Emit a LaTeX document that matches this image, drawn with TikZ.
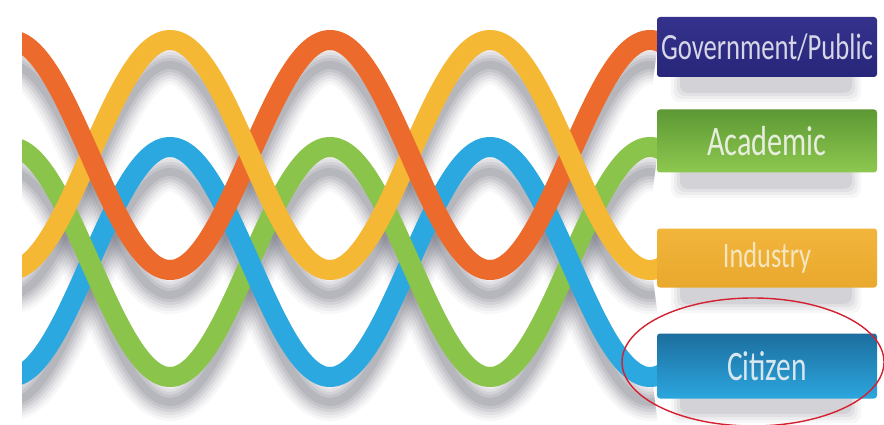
\documentclass[tikz,border=0pt]{standalone}
\usepackage{fontspec}
\setmainfont{Carlito}
\definecolor{cOrange}{HTML}{EC6A2C}
\definecolor{cYellow}{HTML}{F5B835}
\definecolor{cGreen}{HTML}{8AC44B}
\definecolor{cBlue}{HTML}{2AA8DF}
\definecolor{cShadow}{rgb}{0.45,0.45,0.50}
\definecolor{cRing}{HTML}{D42030}
% #1 colour, #2 midline, #3 sign, #4 from, #5 to
\newcommand\wseg[5]{\draw[wave,#1] plot[domain=#4:#5,samples=70] (\x,{#2+#3*115*cos((\x-10)*1.125)});}
% #1 midline, #2 sign
\newcommand\wshadow[2]{%
  \foreach \w/\o in {38/0.05,32/0.07,26/0.09,20/0.12,14/0.15,8/0.17}{%
    \draw[line width=\w pt, cShadow, opacity=\o] plot[domain=10:655,samples=160] (\x,{#1+25+#2*115*cos((\x-10)*1.125)});}}
\newcommand\boxshadow[2]{%
  \foreach \e/\o in {9/0.05,6/0.07,3/0.09,0/0.12}{%
    \fill[cShadow, opacity=\o, rounded corners=8pt] (680-\e,#1+18-\e) rectangle (852+\e,#2+16+\e);}}
\begin{document}
\begin{tikzpicture}[x=1pt,y=-1pt,
  wave/.style={line width=20pt, line cap=butt, line join=round},
  lbl/.style={minimum width=220pt, minimum height=#1, inner sep=0pt, rounded corners=3pt}]
\useasboundingbox[fill=white] (0,0) rectangle (884,425);
\begin{scope}
\clip (22,0) rectangle (884,425);
% shadows of the waves
\wshadow{262}{-1}
\wshadow{262}{1}
\wshadow{155}{-1}
\wshadow{155}{1}
% green / blue pair: ascending parts first, then descending parts
\wseg{cGreen}{262}{-1}{168}{332}
\wseg{cGreen}{262}{-1}{488}{662}
\wseg{cBlue}{262}{1}{5}{172}
\wseg{cBlue}{262}{1}{328}{492}
\wseg{cGreen}{262}{-1}{5}{172}
\wseg{cGreen}{262}{-1}{328}{492}
\wseg{cBlue}{262}{1}{168}{332}
\wseg{cBlue}{262}{1}{488}{662}
% orange / yellow pair
\wseg{cOrange}{155}{-1}{168}{332}
\wseg{cOrange}{155}{-1}{488}{662}
\wseg{cYellow}{155}{1}{5}{172}
\wseg{cYellow}{155}{1}{328}{492}
\wseg{cOrange}{155}{-1}{5}{172}
\wseg{cOrange}{155}{-1}{328}{492}
\wseg{cYellow}{155}{1}{168}{332}
\wseg{cYellow}{155}{1}{488}{662}
\end{scope}
% label shadows
\boxshadow{47}{77}
\boxshadow{141}{173}
\boxshadow{258}{288}
\boxshadow{366}{398}
% labels
\node[lbl=60pt, top color={rgb,255:red,52;green,50;blue,140}, bottom color={rgb,255:red,40;green,38;blue,122}, text={rgb,255:red,214;green,214;blue,230}] (gov) at (767,47)
  {\scalebox{0.72}[1]{\fontsize{37}{37}\selectfont Government/Public}};
\node[lbl=63pt, top color={rgb,255:red,92;green,152;blue,52}, bottom color={rgb,255:red,142;green,200;blue,80}, text={rgb,255:red,232;green,238;blue,222}] (acad) at (767,141)
  {\scalebox{0.72}[1]{\fontsize{42}{42}\selectfont Academic}};
\node[lbl=59pt, top color={rgb,255:red,242;green,181;blue,60}, bottom color={rgb,255:red,233;green,168;blue,46}, text={rgb,255:red,246;green,230;blue,192}] (ind) at (767,258)
  {\scalebox{0.73}[1]{\fontsize{36}{36}\selectfont Industry}};
\node[lbl=65pt, top color={rgb,255:red,28;green,110;blue,158}, bottom color={rgb,255:red,44;green,166;blue,222}, text={rgb,255:red,216;green,230;blue,240}] (cit) at (767,366)
  {\scalebox{0.70}[1]{\fontsize{42}{42}\selectfont Citizen}};
% red ring round Citizen
\draw[cRing, line width=1.4pt] (753,362) ellipse [x radius=131pt, y radius=64pt];
\end{tikzpicture}
\end{document}
